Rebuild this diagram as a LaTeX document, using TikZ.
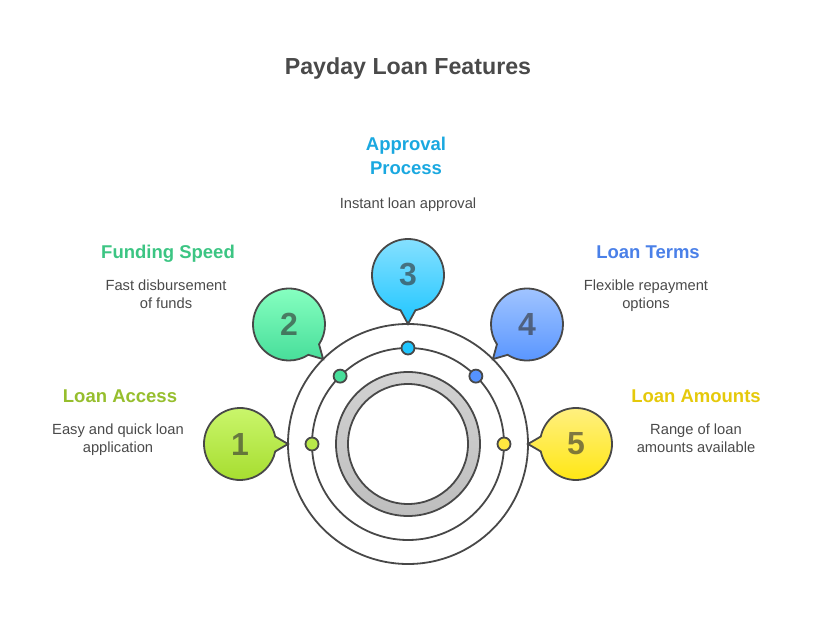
\documentclass[tikz,border=0pt]{standalone}
\usepackage{fontspec}
\setmainfont{Liberation Sans}
\usetikzlibrary{positioning}
\usetikzlibrary{shapes.callouts}
\definecolor{linegray}{HTML}{484848}
\definecolor{textgray}{HTML}{4A4A4A}
\definecolor{ringtop}{HTML}{D2D2D2}
\definecolor{ringbottom}{HTML}{BEBEBE}
\definecolor{accessgreen}{HTML}{96BE2D}
\definecolor{speedgreen}{HTML}{3CC583}
\definecolor{processblue}{HTML}{1AA8E0}
\definecolor{termsblue}{HTML}{4A80E8}
\definecolor{amountyellow}{HTML}{E5C90B}
\definecolor{accesstop}{HTML}{CBF76E}
\definecolor{accessbottom}{HTML}{A5DC2D}
\definecolor{accessdot}{HTML}{B8E84A}
\definecolor{speedtop}{HTML}{86FFC0}
\definecolor{speedbottom}{HTML}{47DE9A}
\definecolor{processtop}{HTML}{85E0FF}
\definecolor{processbottom}{HTML}{1FC6FF}
\definecolor{termstop}{HTML}{A0C4FF}
\definecolor{termsbottom}{HTML}{5593FF}
\definecolor{amounttop}{HTML}{FFF080}
\definecolor{amountbottom}{HTML}{FFE60F}
\definecolor{amountdot}{HTML}{FFE840}
\tikzset{
    ringline/.style={circle,draw=linegray,line width=1.8pt,outer sep=0pt,inner sep=0pt},
    bubble/.style={ellipse callout,draw=linegray,line width=1.8pt,minimum width=72pt,minimum height=72pt,
        inner sep=0pt,outer sep=0pt,callout pointer arc=24,font=\fontsize{32}{32}\selectfont\bfseries,text opacity=.62,text=black!80},
    dotnode/.style={circle,draw=linegray,line width=1.8pt,minimum size=13pt,inner sep=0pt,outer sep=0pt},
    heading/.style={font=\fontsize{18.5}{24}\selectfont\bfseries,align=center,inner sep=0pt},
    bodytext/.style={font=\fontsize{14.7}{18}\selectfont,text=textgray,align=center,inner sep=0pt}
}
\begin{document}
\begin{tikzpicture}[x=1pt,y=1pt,node distance=120pt,on grid]
                \useasboundingbox (0,0) rectangle (816,624);
                \node[font=\fontsize{23.2}{28}\selectfont\bfseries,text=textgray,inner sep=0pt] (title) at (408,555) {Payday Loan Features};
                % rings
                \node[ringline,minimum size=240pt] (outerring) at (408,180) {};
                \node[ringline,minimum size=192pt] (midring) at (408,180) {};
                \node[ringline,top color=ringtop,bottom color=ringbottom,minimum size=144pt] (grayring) at (408,180) {};
                \node[ringline,fill=white,minimum size=120pt] (core) at (408,180) {};
                % dots on the middle ring
                \node[dotnode,fill=accessdot] (dot1) at (midring.180) {};
                \node[dotnode,fill=speedbottom] (dot2) at (midring.135) {};
                \node[dotnode,fill=processbottom] (dot3) at (midring.90) {};
                \node[dotnode,fill=termsbottom] (dot4) at (midring.45) {};
                \node[dotnode,fill=amountdot] (dot5) at (midring.0) {};
                % bubbles
                \node[bubble,top color=accesstop,bottom color=accessbottom,left=168pt of core,callout absolute pointer=(outerring.180)] (bubble1) {1};
                \node[bubble,top color=speedtop,bottom color=speedbottom,above left=119.5pt and 119pt of core,callout absolute pointer=(outerring.135)] (bubble2) {2};
                \node[bubble,top color=processtop,bottom color=processbottom,above=169pt of core,callout absolute pointer=(outerring.90)] (bubble3) {3};
                \node[bubble,top color=termstop,bottom color=termsbottom,above right=119.5pt and 119pt of core,callout absolute pointer=(outerring.45)] (bubble4) {4};
                \node[bubble,top color=amounttop,bottom color=amountbottom,right=168pt of core,callout absolute pointer=(outerring.0)] (bubble5) {5};
                % texts
                \node[heading,text=accessgreen,above left=48pt and 120pt of bubble1] (head1) {Loan Access};
                \node[bodytext,below=44pt of head1,xshift=-2pt] (body1) {Easy and quick loan\\application};
                \node[heading,text=speedgreen,above left=70.5pt and 121pt of bubble2] (head2) {Funding Speed};
                \node[bodytext,below=40pt of head2,xshift=-2pt] (body2) {Fast disbursement\\of funds};
                \node[heading,text=processblue,above=119pt of bubble3,xshift=-2pt] (head3) {Approval\\Process};
                \node[bodytext,below=49pt of head3,xshift=2pt] (body3) {Instant loan approval};
                \node[heading,text=termsblue,above right=72.5pt and 121pt of bubble4] (head4) {Loan Terms};
                \node[bodytext,below=44pt of head4,xshift=-2pt] (body4) {Flexible repayment\\options};
                \node[heading,text=amountyellow,above right=48pt and 120pt of bubble5] (head5) {Loan Amounts};
                \node[bodytext,below=42pt of head5] (body5) {Range of loan\\amounts available};
            \end{tikzpicture}
\end{document}
